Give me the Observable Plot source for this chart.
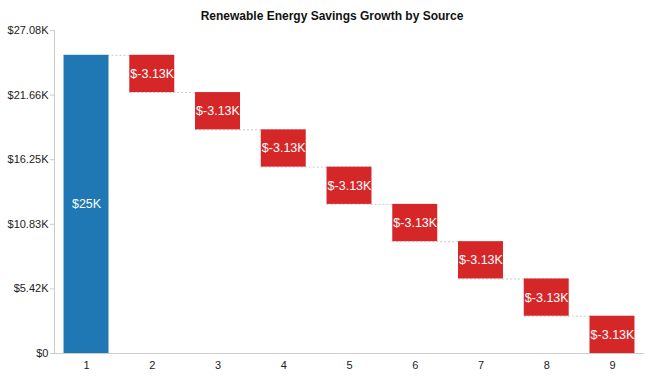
<!DOCTYPE html>
<html>
<head>
<meta charset="utf-8">
<script src="https://cdn.jsdelivr.net/npm/d3@7"></script>
<script src="https://cdn.jsdelivr.net/npm/@observablehq/plot@0.6"></script>
<style>
  body { margin: 0; background: #fff; font-family: "Liberation Sans", Arial, sans-serif; }
  #wrap { position: relative; width: 660px; height: 380px; }
  #title { position: absolute; top: 9px; left: 2px; width: 660px; text-align: center; font-weight: bold; font-size: 12px; color: #111; }
</style>
</head>
<body>
<div id="wrap">
  <div id="title">Renewable Energy Savings Growth by Source</div>
  <div id="chart"></div>
</div>
<script>
const categories = ["1", "2", "3", "4", "5", "6", "7", "8", "9"];
const values = [25000, -3125, -3125, -3125, -3125, -3125, -3125, -3125, -3125];
const yMax = 27080;
const yTicks = [0, 5416, 10832, 16248, 21664, 27080];
const yTickLabels = ["$0", "$5.42K", "$10.83K", "$16.25K", "$21.66K", "$27.08K"];

const fmt = v => "$" + (+(v / 1000).toFixed(2)).toString() + "K";

let cum = 0;
const rows = categories.map((c, i) => {
  const start = cum;
  cum += values[i];
  return { cat: c, start, end: cum, mid: (start + cum) / 2, value: values[i], label: fmt(values[i]), first: i === 0 };
});
const connectors = rows.slice(0, -1).map((r, i) => ({ x1: r.cat, x2: rows[i + 1].cat, y: r.end }));

const chart = Plot.plot({
  width: 660,
  height: 380,
  marginTop: 30,
  marginLeft: 54,
  marginRight: 16,
  marginBottom: 27,
  style: { fontFamily: "'Liberation Sans', Arial, sans-serif", fontSize: "11px", color: "#222" },
  x: { domain: categories, paddingInner: 0.316, paddingOuter: 0.145, round: false, label: null },
  y: { domain: [0, yMax], label: null },
  marks: [
    Plot.ruleY(connectors, { x1: "x1", x2: "x2", y: "y", stroke: "#ccc", strokeDasharray: "2,2" }),
    Plot.barY(rows, { x: "cat", y1: "start", y2: "end", fill: d => d.first ? "#1f77b4" : "#d62728" }),
    Plot.text(rows, { x: "cat", y: "mid", text: "label", fill: "white", fontSize: 12.5 }),
    Plot.ruleY([0], { stroke: "#ccc" }),
    Plot.frame({ anchor: "left", stroke: "#ccc" }),
    Plot.axisY(yTicks, { tickSize: 4, tickPadding: 2, stroke: "#ccc", fill: "#222", tickFormat: (d) => yTickLabels[yTicks.indexOf(d)] }),
    Plot.axisX({ tickSize: 0, tickPadding: 8, fill: "#222" })
  ]
});
document.getElementById("chart").appendChild(chart);
</script>
</body>
</html>
